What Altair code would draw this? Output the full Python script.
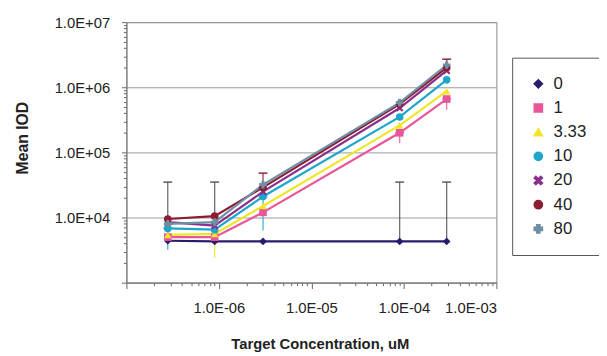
import altair as alt
import pandas as pd

# ---- data ----
conc = [2.8e-7, 9.0e-7, 3.0e-6, 9.0e-5, 2.9e-4]
series = ["0", "1", "3.33", "10", "20", "40", "80"]
iod_0 = [4.4e3, 4.3e3, 4.3e3, 4.3e3, 4.3e3]
iod_1 = [5.0e3, 5.0e3, 1.2e4, 2.0e5, 6.6e5]
iod_333 = [5.4e3, 5.6e3, 1.5e4, 2.6e5, 8.7e5]
iod_10 = [6.8e3, 6.5e3, 2.1e4, 3.5e5, 1.3e6]
iod_20 = [8.5e3, 7.5e3, 2.5e4, 4.8e5, 1.8e6]
iod_40 = [9.5e3, 1.05e4, 2.9e4, 5.5e5, 2.0e6]
iod_80 = [8.0e3, 8.5e3, 3.2e4, 5.8e5, 2.2e6]
all_iod = [iod_0, iod_1, iod_333, iod_10, iod_20, iod_40, iod_80]

# error bars: series, point index, low, high
err_series = ["0", "0", "0", "0", "40", "40", "10", "10", "3.33", "1", "1"]
err_point = [0, 1, 3, 4, 2, 4, 0, 2, 1, 3, 4]
err_low = [4.4e3, 4.3e3, 4.3e3, 4.3e3, 2.9e4, 2.0e6, 3.2e3, 6.3e3, 2.4e3, 1.4e5, 4.5e5]
err_high = [3.5e4, 3.5e4, 3.5e4, 3.5e4, 4.8e4, 2.7e6, 6.8e3, 2.1e4, 5.6e3, 2.0e5, 6.6e5]

colors = ["#2b1b6e", "#e8559a", "#f0e628", "#1ea6c9", "#8a2f8c", "#8c1c30", "#6f8fa5"]
shapes = ["diamond", "square", "triangle-up", "circle",
          "M-1,-0.6L-0.6,-1L0,-0.4L0.6,-1L1,-0.6L0.4,0L1,0.6L0.6,1L0,0.4L-0.6,1L-1,0.6L-0.4,0Z",
          "circle", "cross"]

rows = []
for s, vals in zip(series, all_iod):
    for c, v in zip(conc, vals):
        rows.append({"series": s, "conc": c, "iod": v})
df = pd.DataFrame(rows)

err_df = pd.DataFrame({
    "series": err_series,
    "conc": [conc[i] for i in err_point],
    "low": err_low,
    "high": err_high,
})

FONT = "Liberation Sans"
major = "abs(log(datum.value)/LN10 - round(log(datum.value)/LN10)) < 0.001"


def label_expr(blank_exp):
    return (
        f"({major}) && round(log(datum.value)/LN10) != {blank_exp} ? "
        "'1.0E' + (round(log(datum.value)/LN10) < 0 ? '-' : '+') + '0' + "
        "abs(round(log(datum.value)/LN10)) : ''"
    )


y_ticks = [m * 10.0 ** e for e in range(3, 7) for m in range(1, 10)] + [1e7]
x_ticks = [m * 10.0 ** e for e in range(-7, -3) for m in range(1, 10)] + [1e-3]

x_enc = alt.X(
    "conc:Q",
    scale=alt.Scale(type="log", domain=[1e-7, 1e-3], nice=False),
    axis=alt.Axis(
        values=x_ticks,
        labelExpr=label_expr(-7),
        title="Target Concentration, uM",
        titleFontSize=15,
        titleFontWeight="bold",
        titleX=196,
        titlePadding=22,
        labelFontSize=15,
        labelPadding=12,
        labelColor="#222",
        titleColor="#222",
        tickSize={"condition": {"test": major, "value": 6}, "value": 3},
        tickColor="#666",
        domainColor="#777",
        grid=False,
        labelOverlap=False,
    ),
)

y_enc = alt.Y(
    "iod:Q",
    scale=alt.Scale(type="log", domain=[1e3, 1e7], nice=False),
    axis=alt.Axis(
        values=y_ticks,
        labelExpr=label_expr(3),
        title="Mean IOD",
        titleFontSize=16,
        titleFontWeight="bold",
        titleY=117,
        titlePadding=24,
        labelFontSize=15,
        labelPadding=12,
        labelColor="#222",
        titleColor="#222",
        tickSize={"condition": {"test": major, "value": 5}, "value": 3},
        tickColor="#666",
        domainColor="#777",
        grid=True,
        gridColor="#999",
        gridOpacity={"condition": {"test": major, "value": 1}, "value": 0},
        labelOverlap=False,
    ),
)

color_scale = alt.Scale(domain=series, range=colors)
color_enc = alt.Color("series:N", scale=color_scale, legend=alt.Legend(title=None))
shape_enc = alt.Shape(
    "series:N",
    scale=alt.Scale(domain=series, range=shapes),
    legend=alt.Legend(title=None),
)

err_color = alt.condition(
    "datum.series == '0'",
    alt.value("#555555"),
    alt.Color("series:N", scale=color_scale, legend=None),
)

errs = alt.Chart(err_df).mark_rule(strokeWidth=1.3, opacity=0.85).encode(
    x="conc:Q", y=alt.Y("low:Q"), y2="high:Q", color=err_color,
)
caps = alt.Chart(err_df).mark_tick(thickness=1.6, size=9, orient="horizontal", opacity=0.9).encode(
    x="conc:Q", y=alt.Y("high:Q"), color=err_color,
)

lines = alt.Chart(df).mark_line(strokeWidth=2.2).encode(
    x=x_enc, y=y_enc, color=color_enc, detail="series:N"
)
points = alt.Chart(df).mark_point(filled=True, size=60, opacity=1).encode(
    x="conc:Q", y="iod:Q", color=color_enc, shape=shape_enc
)

chart = (
    alt.layer(lines, errs, caps, points)
    .properties(
        width=375,
        height=264,
        padding={"left": 120, "top": 12, "right": 104, "bottom": 72},
        autosize=alt.AutoSizeParams(type="none"),
    )
    .configure(font=FONT)
    .configure_view(stroke="#888", strokeWidth=1)
    .configure_legend(
        orient="none",
        legendX=391,
        legendY=36,
        strokeColor="#555",
        padding=18,
        labelFontSize=17,
        labelColor="#222",
        symbolSize=70,
        rowPadding=6.5,
        labelOffset=7,
    )
)

chart.save("out.html", embed_options={"renderer": "svg", "actions": False})
